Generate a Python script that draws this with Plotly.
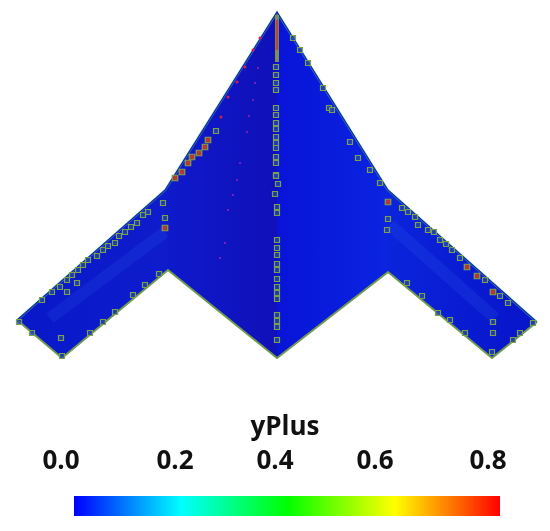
import plotly.graph_objects as go

# colour bar
bar_values = [0.0, 0.1, 0.2, 0.3, 0.4, 0.5, 0.6, 0.7, 0.8]
tick_labels = ["0.0", "0.2", "0.4", "0.6", "0.8"]
tick_x = [61, 175, 275, 375, 488]

# wing panels (image pixels)
left_body_x = [277, 165, 168, 277]
left_body_y = [12, 190, 270, 358]
right_body_x = [277, 388, 388, 277]
right_body_y = [12, 190, 272, 358]
left_wing_x = [165, 17, 62, 168]
left_wing_y = [190, 320, 358, 270]
right_wing_x = [388, 537, 492, 388]
right_wing_y = [190, 322, 358, 272]

# high yPlus spots
spine_x = [276, 276, 276, 276, 276, 276, 276, 276, 276, 276, 276, 276, 276, 276, 276, 278, 275, 277, 277,
           277, 277, 277, 277, 277, 277, 277, 277, 277, 277, 277, 277, 277]
spine_y = [67, 75, 83, 90, 108, 115, 123, 129, 137, 143, 148, 157, 163, 175, 176, 184, 194, 207, 213,
           240, 248, 255, 264, 270, 279, 287, 293, 299, 315, 321, 327, 340]
edge_x = [216, 163, 165, 148, 143, 137, 131, 125, 119, 115, 108, 103, 97, 88, 83, 78, 72, 67, 77, 60, 52, 42, 67, 61,
          19, 32, 62, 90, 103, 115, 133, 145, 159, 388, 387, 380, 402, 408, 415, 418, 428, 434, 440, 446, 452, 460,
          485, 500, 508, 493, 493, 492, 520, 533, 513, 407, 422, 438, 450, 465, 293, 308, 323, 329, 300, 332, 350,
          358, 370]
edge_y = [131, 203, 218, 212, 215, 223, 227, 232, 236, 243, 246, 250, 256, 260, 265, 270, 275, 280, 283, 287, 292,
          300, 292, 338, 322, 333, 356, 333, 322, 312, 295, 285, 274, 219, 230, 183, 208, 212, 217, 225, 230, 232,
          240, 244, 250, 258, 280, 296, 303, 322, 333, 352, 333, 323, 340, 283, 296, 313, 320, 333, 38, 63, 88, 108,
          50, 110, 142, 158, 170]
red_x = [208, 205, 199, 192, 188, 182, 175, 165, 388, 467, 477, 493]
red_y = [140, 147, 153, 157, 163, 172, 178, 228, 202, 267, 276, 292]
tick_red_x = [260, 253, 245, 237, 228, 221]
tick_red_y = [38, 50, 67, 82, 97, 117]
faint_x = [258, 255, 253, 249, 247, 240, 237, 233, 228, 225, 220]
faint_y = [68, 83, 100, 116, 132, 163, 180, 195, 210, 243, 258]

# trailing edge and leading edge outlines
trail_x = [17, 62, 168, 277, 388, 492, 537]
trail_y = [320, 358, 270, 358, 272, 358, 322]
lead_x = [17, 165, 277, 388, 537]
lead_y = [320, 190, 12, 190, 322]
spine_top_y = [15, 62]
spine_red_y = [20, 50]

JET = [[0, "#0000ff"], [0.25, "#00ffff"], [0.5, "#00ff00"], [0.75, "#ffff00"], [1, "#ff0000"]]


def panel(xs, ys, c0, c1):
    return go.Scatter(
        x=xs + xs[:1], y=ys + ys[:1], mode="lines", fill="toself", line=dict(width=0),
        fillgradient=dict(type="horizontal", colorscale=[[0, c0], [1, c1]]), hoverinfo="skip",
    )


fig = go.Figure()
# base shape under the panels so no seams show
fig.add_trace(go.Scatter(x=lead_x + trail_x[::-1][:-1], y=lead_y + trail_y[::-1][:-1], mode="lines", fill="toself",
                         fillcolor="#0c18cc", line=dict(width=0)))
fig.add_trace(panel(left_wing_x, left_wing_y, "#0818c8", "#0e1ccc"))
fig.add_trace(panel(right_wing_x, right_wing_y, "#0a24dc", "#0814c8"))
fig.add_trace(panel(left_body_x, left_body_y, "#0e1acc", "#1010b8"))
fig.add_trace(panel(right_body_x, right_body_y, "#0814d8", "#0a24e0"))

# lighter streaks along the wings
fig.add_trace(go.Scatter(x=[50, 165], y=[318, 232], mode="lines", line=dict(color="rgba(50,100,240,0.16)", width=12)))
fig.add_trace(go.Scatter(x=[390, 495], y=[225, 318], mode="lines", line=dict(color="rgba(50,100,240,0.18)", width=12)))

# outlines
fig.add_trace(go.Scatter(x=lead_x, y=lead_y, mode="lines", line=dict(color="rgba(120,240,230,0.4)", width=2.5)))
fig.add_trace(go.Scatter(x=lead_x, y=lead_y, mode="lines", line=dict(color="#14308c", width=1.2)))
fig.add_trace(go.Scatter(x=trail_x, y=trail_y, mode="lines", line=dict(color="#6f9a50", width=2)))

# spine
fig.add_trace(go.Scatter(x=[277, 277], y=spine_top_y, mode="lines", line=dict(color="#7f8f50", width=4)))
fig.add_trace(go.Scatter(x=[277, 277], y=spine_red_y, mode="lines", line=dict(color="#b04a3a", width=2.5)))

spot = dict(symbol="square", size=5, color="rgba(30,70,170,0.8)", line=dict(color="#7f9f50", width=1.2))
fig.add_trace(go.Scatter(x=spine_x, y=spine_y, mode="markers", marker=spot))
fig.add_trace(go.Scatter(x=edge_x, y=edge_y, mode="markers", marker=spot))
fig.add_trace(go.Scatter(x=red_x, y=red_y, mode="markers",
                         marker=dict(symbol="square", size=5.5, color="#b03a3a", line=dict(color="#7f9f50", width=1.2))))
fig.add_trace(go.Scatter(x=tick_red_x, y=tick_red_y, mode="markers", marker=dict(size=3, color="#d02050")))
fig.add_trace(go.Scatter(x=faint_x, y=faint_y, mode="markers", marker=dict(size=2, color="#a020c0")))

# colour bar on its own axis
fig.add_trace(go.Heatmap(x=bar_values, y=[0, 1], z=[bar_values, bar_values], colorscale=JET, zmin=0, zmax=0.8,
                         zsmooth="best", showscale=False, xaxis="x2", yaxis="y2", hoverinfo="skip"))

fig.add_trace(go.Scatter(x=tick_x, y=[462] * len(tick_x), mode="text", text=tick_labels,
                         textfont=dict(size=26, color="#111111", family="Open Sans", weight="bold")))
fig.add_trace(go.Scatter(x=[285], y=[428], mode="text", text=["yPlus"],
                         textfont=dict(size=26, color="#111111", family="Open Sans", weight="bold")))

fig.update_layout(
    width=550, height=531, showlegend=False,
    margin=dict(l=0, r=0, t=0, b=0),
    plot_bgcolor="white", paper_bgcolor="white",
    xaxis=dict(range=[0, 550], visible=False, domain=[0, 1]),
    yaxis=dict(range=[531, 0], visible=False, domain=[0, 1]),
    xaxis2=dict(range=[0, 0.8], visible=False, domain=[74 / 550, 500 / 550], anchor="y2"),
    yaxis2=dict(range=[0, 1], visible=False, domain=[1 - 516 / 531, 1 - 496 / 531], anchor="x2"),
)

# the reference is a soft, resampled image
fig.write_html("out.html", config=dict(displayModeBar=False),
               post_script="document.body.style.margin='0';"
                           "document.querySelector('.svg-container').style.filter='blur(0.6px)';")
